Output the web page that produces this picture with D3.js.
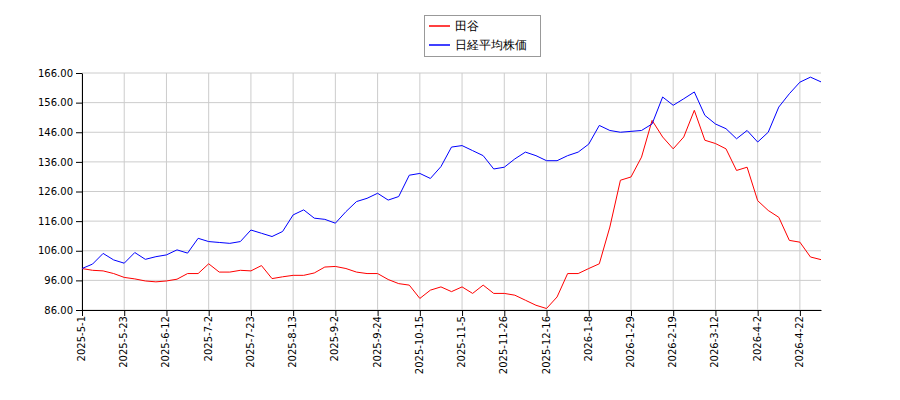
<!DOCTYPE html>
<html><head><meta charset="utf-8">
<script src="https://cdn.jsdelivr.net/npm/d3@7"></script>
<style>body{margin:0;background:#fff}text{font-family:"DejaVu Sans",sans-serif}</style>
</head><body><svg id="c" width="900" height="400"></svg>
<script>
const tickLabels=["2025-5-1","2025-5-23","2025-6-12","2025-7-2","2025-7-23","2025-8-13","2025-9-2","2025-9-24","2025-10-15","2025-11-5","2025-11-26","2025-12-16","2026-1-8","2026-1-29","2026-2-19","2026-3-12","2026-4-2","2026-4-22"];
const yTicks=[86,96,106,116,126,136,146,156,166];
// sampled every quarter tick interval
const stockValues=[100,99.4,99.2,98.3,97,96.5,95.8,95.5,95.8,96.4,98.3,98.3,101.6,98.8,98.8,99.4,99.2,101,96.6,97.2,97.7,97.7,98.5,100.5,100.7,100,98.8,98.3,98.3,96.3,94.9,94.4,89.9,92.7,93.8,92.2,93.8,91.6,94.4,91.6,91.6,91,89.3,87.6,86.5,90.4,98.3,98.3,100,101.6,114,129.8,130.9,137.6,150,144.4,140.4,144.4,153.4,143.3,142.2,140.4,133.1,134.2,122.9,119.6,117.3,109.5,108.9,103.9,103];
const nikkeiValues=[100,101.5,105.1,102.9,101.8,105.4,103.1,104,104.6,106.3,105.2,110.2,109.1,108.8,108.5,109.1,113,111.9,110.8,112.5,118.1,119.8,117,116.6,115.3,119.2,122.6,123.7,125.4,123.1,124.3,131.5,132.1,130.4,134.4,141,141.5,139.8,138.1,133.6,134.2,137,139.3,138.1,136.4,136.4,138.1,139.3,142,148.3,146.6,146,146.3,146.6,148.8,157.9,155.1,157.3,159.6,151.7,148.8,147.2,143.8,146.6,142.7,146,154.5,159,162.9,164.6,163];
const seriesNames=["田谷","日経平均株価"];

const svg=d3.select("#c");
const L=82,R=821,T=73,B=310;
const x=d3.scaleLinear().domain([0,17.5]).range([L,R]);
const y=d3.scaleLinear().domain([86,166]).range([B,T]);
const g=svg.append("g");
g.selectAll(".gy").data(yTicks).join("line").attr("x1",L).attr("x2",R).attr("y1",d=>y(d)).attr("y2",d=>y(d)).attr("stroke","#ccc");
g.selectAll(".gx").data(tickLabels).join("line").attr("x1",(d,i)=>x(i)).attr("x2",(d,i)=>x(i)).attr("y1",T).attr("y2",B).attr("stroke","#ccc");
svg.append("g").attr("transform",`translate(${L},0)`).call(d3.axisLeft(y).tickValues(yTicks).tickFormat(d3.format(".2f")).tickSizeOuter(0))
 .call(a=>a.selectAll("text").attr("font-size",10).attr("fill","#000"));
svg.append("g").attr("transform",`translate(0,${B})`).call(d3.axisBottom(x).tickValues(d3.range(tickLabels.length)).tickFormat(i=>tickLabels[i]).tickSizeOuter(0))
 .call(a=>a.selectAll("text").attr("font-size",10).attr("fill","#000").attr("transform","rotate(-90)").attr("text-anchor","end").attr("dx","-0.6em").attr("dy","-0.35em").attr("x",0).attr("y",6));
const line=d3.line().x((d,i)=>x(i*0.25)).y(d=>y(d));
svg.append("path").datum(stockValues).attr("d",line).attr("fill","none").attr("stroke","red").attr("stroke-width",1);
svg.append("path").datum(nikkeiValues).attr("d",line).attr("fill","none").attr("stroke","blue").attr("stroke-width",1);
const lg=svg.append("g");
lg.append("rect").attr("x",424.5).attr("y",15.5).attr("width",116).attr("height",41).attr("fill","#fff").attr("stroke","#999");
[["red",seriesNames[0]],["blue",seriesNames[1]]].forEach(([c,n],i)=>{
 lg.append("line").attr("x1",429).attr("x2",450).attr("y1",26+i*19).attr("y2",26+i*19).attr("stroke",c).attr("stroke-width",1.5);
 lg.append("text").attr("x",455).attr("y",30+i*19).attr("font-size",12).text(n);
});
</script></body></html>
